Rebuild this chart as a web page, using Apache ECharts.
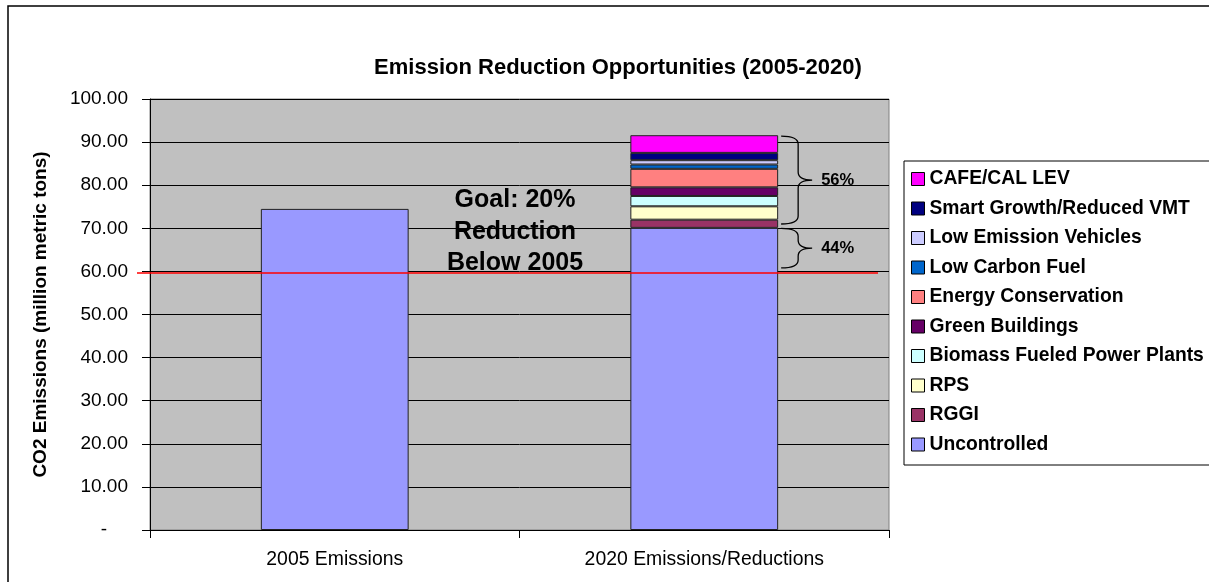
<!DOCTYPE html>
<html>
<head>
<meta charset="utf-8">
<script src="https://cdn.jsdelivr.net/npm/echarts@6/dist/echarts.min.js"></script>
<style>
html,body{margin:0;padding:0;background:#fff;}
#chart{width:1209px;height:582px;}
</style>
</head>
<body>
<div id="chart"></div>
<script>
// ---- data ----
const categories = ['2005 Emissions', '2020 Emissions/Reductions'];
const seriesNames = ['Uncontrolled', 'RGGI', 'RPS', 'Biomass Fueled Power Plants', 'Green Buildings',
  'Energy Conservation', 'Low Carbon Fuel', 'Low Emission Vehicles', 'Smart Growth/Reduced VMT', 'CAFE/CAL LEV'];
const uncontrolled = [74.5, 70.1];
const rggi = [null, 1.9];
const rps = [null, 3.1];
const biomass = [null, 2.4];
const greenBuildings = [null, 2.0];
const energyConservation = [null, 4.3];
const lowCarbonFuel = [null, 1.0];
const lowEmissionVehicles = [null, 1.0];
const smartGrowth = [null, 1.7];
const cafe = [null, 4.1];
const goalValue = 59.6;
const braces = [[1, 60.8, 70.0, '44%'], [1, 71.0, 91.4, '56%']];
const yTicks = {min: 0, max: 100, interval: 10};
const goalText = 'Goal: 20%\nReduction\nBelow 2005';

const seriesValues = [uncontrolled, rggi, rps, biomass, greenBuildings, energyConservation,
  lowCarbonFuel, lowEmissionVehicles, smartGrowth, cafe];
const colors = ['#9999ff', '#993366', '#ffffcc', '#ccffff', '#660066', '#ff8080', '#0066cc', '#ccccff', '#000080', '#ff00ff'];

const FONT = '"Liberation Sans", Arial, sans-serif';
const chart = echarts.init(document.getElementById('chart'));

const barSeries = seriesNames.map((n, i) => ({
  name: n, type: 'bar', stack: 'total', data: seriesValues[i], barWidth: '40%',
  itemStyle: {color: colors[i], borderColor: '#222', borderWidth: 1},
  emphasis: {disabled: true}
}));

const braceSeries = {
  type: 'custom', silent: true, z: 5,
  data: braces,
  encode: {x: 0, y: [1, 2]},
  renderItem: function (params, api) {
    const c = api.value(0);
    const lo = api.coord([c, api.value(1)]);
    const hi = api.coord([c, api.value(2)]);
    const half = api.size([1, 0])[0] * 0.2;
    const x0 = lo[0] + half + 3, xv = x0 + 17, xt = xv + 14;
    const yt = hi[1], yb = lo[1], ym = (yt + yb) / 2, r = 8;
    const path = `M${x0} ${yt} Q${xv} ${yt} ${xv} ${yt + r} L${xv} ${ym - r} Q${xv} ${ym} ${xt} ${ym} ` +
      `Q${xv} ${ym} ${xv} ${ym + r} L${xv} ${yb - r} Q${xv} ${yb} ${x0} ${yb}`;
    return {
      type: 'group', children: [
        {type: 'path', shape: {pathData: path}, style: {fill: 'none', stroke: '#000', lineWidth: 1.3}},
        {type: 'text', style: {text: braces[params.dataIndex][3], x: xt + 9, y: ym, textVerticalAlign: 'middle',
          font: 'bold 16.5px ' + FONT, fill: '#000'}}
      ]
    };
  }
};

chart.setOption({
  animation: false,
  backgroundColor: '#fff',
  title: {
    text: 'Emission Reduction Opportunities (2005-2020)', left: 613, top: 52, textAlign: 'center',
    textStyle: {fontFamily: FONT, fontWeight: 'bold', fontSize: 22, color: '#000'}
  },
  grid: {left: 150, right: 320, top: 99, bottom: 52, show: true, backgroundColor: '#c0c0c0',
    borderColor: '#808080', borderWidth: 1},
  legend: {
    orient: 'vertical', left: 911, top: 169, padding: 0, itemGap: 9.5,
    itemWidth: 13, itemHeight: 13, icon: 'rect',
    data: seriesNames.slice().reverse(),
    textStyle: {fontFamily: FONT, fontWeight: 'bold', fontSize: 19.3, color: '#000', lineHeight: 20},
    itemStyle: {borderColor: '#000', borderWidth: 1},
    selectedMode: false
  },
  xAxis: {
    type: 'category', data: categories,
    axisLine: {lineStyle: {color: '#000', width: 1}},
    axisTick: {show: true, length: 8, lineStyle: {color: '#000'}},
    axisLabel: {fontFamily: FONT, fontSize: 19.4, color: '#000', margin: 20}
  },
  yAxis: {
    type: 'value', min: yTicks.min, max: yTicks.max, interval: yTicks.interval,
    name: 'CO2 Emissions (million metric tons)', nameLocation: 'middle', nameGap: 100,
    nameTextStyle: {fontFamily: FONT, fontWeight: 'bold', fontSize: 19, color: '#000'},
    axisLine: {show: true, lineStyle: {color: '#000', width: 1}},
    axisTick: {show: true, length: 8, lineStyle: {color: '#000'}},
    splitLine: {show: true, lineStyle: {color: '#000', width: 1}},
    axisLabel: {
      fontFamily: FONT, fontSize: 19, color: '#000', margin: 22,
      formatter: v => v === 0 ? '{d|-}' : v.toFixed(2),
      rich: {d: {fontFamily: FONT, fontSize: 19, color: '#000', padding: [0, 21, 0, 0]}}
    }
  },
  series: barSeries.concat([braceSeries])
});

const gy = chart.convertToPixel({yAxisIndex: 0}, goalValue);
chart.setOption({
  graphic: [
    {type: 'rect', shape: {x: 8, y: 6, width: 1215, height: 590}, style: {fill: 'none', stroke: '#000', lineWidth: 1.5}, silent: true},
    {type: 'rect', shape: {x: 904, y: 161, width: 320, height: 304}, style: {fill: 'none', stroke: '#000', lineWidth: 1}, silent: true, z: -1},
    {type: 'line', shape: {x1: 137, y1: gy, x2: 878, y2: gy}, style: {stroke: '#ff0000', lineWidth: 1.5}, z: 100, silent: true},
    {type: 'text', x: 515, y: 232, style: {text: goalText, textAlign: 'center', textVerticalAlign: 'middle',
      font: 'bold 25px ' + FONT, lineHeight: 31.5, fill: '#000'}, z: 100, silent: true}
  ]
});
</script>
</body>
</html>
